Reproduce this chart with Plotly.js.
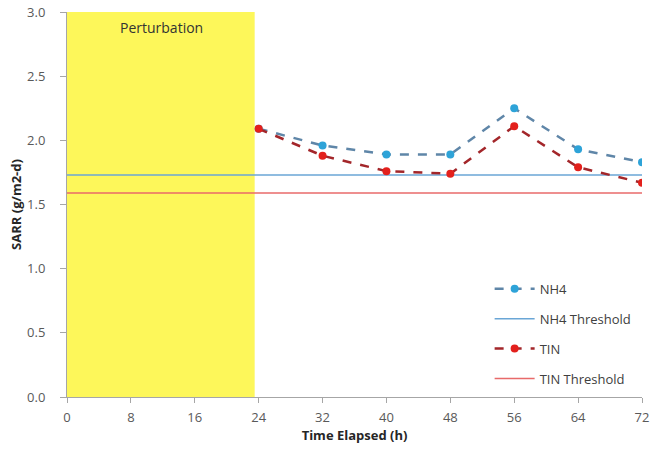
<!DOCTYPE html>
<html><head><meta charset="utf-8">
<script src="https://cdn.plot.ly/plotly-3.0.1.min.js"></script>
<style>html,body{margin:0;padding:0;background:#fff}#c{width:651px;height:449px}</style>
</head><body><div id="c"></div>
<script>
const hours = [24, 32, 40, 48, 56, 64, 72];
const nh4 = [2.09, 1.96, 1.89, 1.89, 2.25, 1.93, 1.83];
const tin = [2.09, 1.88, 1.76, 1.74, 2.11, 1.79, 1.67];
const thresholdX = [0, 72];
const nh4Threshold = [1.73, 1.73];
const tinThreshold = [1.59, 1.59];
const xTicks = [0, 8, 16, 24, 32, 40, 48, 56, 64, 72];
const perturbation = [0, 23.5];

const font = "Open Sans, Liberation Sans, sans-serif";
const traces = [
  {x: hours, y: nh4, name: 'NH4', mode: 'lines+markers', legendgroup: 'a',
   line: {color: '#5f86a8', width: 2.5, dash: 'dash'},
   marker: {color: '#2ea3d8', size: 8}},
  {x: thresholdX, y: nh4Threshold, name: 'NH4 Threshold', mode: 'lines', legendgroup: 'b',
   line: {color: '#6aa6d6', width: 1.5}},
  {x: hours, y: tin, name: 'TIN', mode: 'lines+markers', legendgroup: 'c',
   line: {color: '#a3262a', width: 2.5, dash: 'dash'},
   marker: {color: '#e3201c', size: 8}},
  {x: thresholdX, y: tinThreshold, name: 'TIN Threshold', mode: 'lines', legendgroup: 'd',
   line: {color: '#e86a6a', width: 1.5}}
];
const layout = {
  width: 651, height: 449,
  margin: {l: 67, r: 9, t: 12, b: 52},
  paper_bgcolor: '#fff', plot_bgcolor: '#fff',
  font: {family: font, size: 13, color: '#595959'},
  showlegend: true,
  legend: {x: 0.735, y: 0.32, xanchor: 'left', yanchor: 'top',
    bgcolor: 'rgba(0,0,0,0)', font: {size: 13, color: '#404040'}, tracegroupgap: 10,
    itemwidth: 40},
  xaxis: {range: [0, 72], tickvals: xTicks, ticktext: xTicks.map(String),
    showgrid: false, zeroline: false, showline: true, linecolor: '#a6a6a6',
    ticks: 'outside', ticklen: 5, tickcolor: '#a6a6a6', ticklabelstandoff: 3,
    title: {text: '<b>Time Elapsed (h)</b>', font: {size: 13, color: '#262626'}, standoff: 2}},
  yaxis: {range: [0, 3], dtick: 0.5, tickformat: '.1f',
    showgrid: false, zeroline: false, showline: true, linecolor: '#a6a6a6',
    ticks: 'outside', ticklen: 6, tickcolor: '#a6a6a6', ticklabelstandoff: 12,
    title: {text: '<b>SARR (g/m2-d)</b>', font: {size: 13, color: '#262626'}, standoff: 2}},
  shapes: [{type: 'rect', xref: 'x', yref: 'paper', x0: perturbation[0], x1: perturbation[1],
    y0: 0, y1: 1, fillcolor: '#fdf75a', line: {width: 0}, layer: 'below'}],
  annotations: [{x: 11.8, y: 2.88, xref: 'x', yref: 'y', text: 'Perturbation',
    showarrow: false, font: {size: 14, color: '#333333'}}]
};
Plotly.newPlot('c', traces, layout, {displayModeBar: false, staticPlot: true});
</script></body></html>
